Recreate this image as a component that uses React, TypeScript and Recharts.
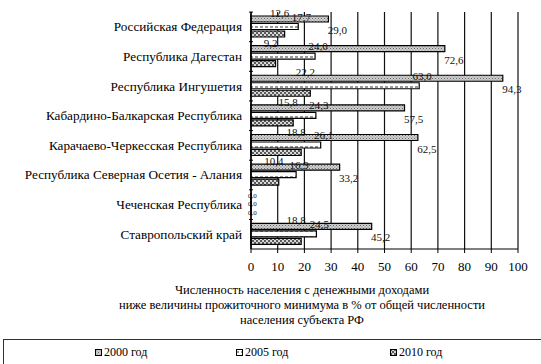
import { BarChart, Bar, XAxis, YAxis, CartesianGrid, LabelList } from "recharts"

const regions = [
  "Российская Федерация",
  "Республика Дагестан",
  "Республика Ингушетия",
  "Кабардино-Балкарская Республика",
  "Карачаево-Черкесская Республика",
  "Республика Северная Осетия - Алания",
  "Чеченская Республика",
  "Ставропольский край",
]

const y2000 = [29.0, 72.6, 94.3, 57.5, 62.5, 33.2, 0.0, 45.2]
const y2005 = [17.7, 24.0, 63.0, 24.3, 26.1, 16.9, 0.0, 24.5]
const y2010 = [12.6, 9.2, 22.2, 15.8, 18.8, 10.4, 0.0, 18.8]

const xTicks = [0, 10, 20, 30, 40, 50, 60, 70, 80, 90, 100]

const titleLines = [
  "Численность населения с денежными доходами",
  "ниже величины прожиточного минимума в % от общей численности",
  "населения субъекта РФ",
]

const SERIF = "Liberation Serif"

const data = regions.map((name, i) => ({
  name,
  y2000: y2000[i],
  y2005: y2005[i],
  y2010: y2010[i],
}))

const fmt = (v: number) => v.toFixed(1).replace(".", ",")

// zero-valued bars get a hairline so their labels still show (Чеченская Республика)
const zeroMin = (v: any) => (Number(v) === 0 ? 0.3 : 0)

// label offsets from the bar end / bar centre, per series
function makeLabel(dx: number, dy: number, zeroDy: number) {
  return (props: any) => {
    const { x, y, width, height, value } = props
    const zero = Number(value) === 0
    return (
      <text
        x={Number(x) + Number(width) + (zero ? 1 : dx)}
        y={Number(y) + Number(height) / 2 + (zero ? zeroDy : dy)}
        textAnchor="middle"
        dominantBaseline="central"
        fontSize={zero ? 7 : 11}
        style={{ fontFamily: SERIF }}
        fill="#111"
      >
        {fmt(Number(value))}
      </text>
    )
  }
}

function RegionTick(props: any) {
  const { x, y, payload } = props
  return (
    <g>
      <text
        x={x}
        y={y}
        textAnchor="end"
        dominantBaseline="central"
        fontSize={13.2}
        style={{ fontFamily: SERIF }}
        fill="#000"
      >
        {payload.value}
      </text>
      <line x1={x + 7} x2={x + 11} y1={y - 14.75} y2={y - 14.75} stroke="#000" />
    </g>
  )
}

function LegendItem({ id, label, left }: { id: string; label: string; left: number }) {
  return (
    <div style={{ position: "absolute", left, top: 345, display: "flex", alignItems: "center" }}>
      <svg width={7} height={7} style={{ marginRight: 2 }}>
        <rect x={0.5} y={0.5} width={6} height={6} fill={`url(#${id})`} stroke="#000" />
      </svg>
      <span style={{ fontSize: 12, fontFamily: SERIF, color: "#000" }}>{label}</span>
    </div>
  )
}

export default function App() {
  return (
    <div style={{ position: "absolute", left: 0, top: 0, width: 541, height: 364, background: "#fff", overflow: "hidden", fontFamily: SERIF }}>
      <svg width={0} height={0} style={{ position: "absolute" }}>
        <defs>
          <pattern id="p2000" width={3} height={3} patternUnits="userSpaceOnUse">
            <rect width={3} height={3} fill="#cfcfcf" />
            <rect width={1} height={1} fill="#666" />
            <rect x={1.5} y={1.5} width={1} height={1} fill="#888" />
          </pattern>
          <pattern id="p2005" width={5} height={6} patternUnits="userSpaceOnUse">
            <rect width={5} height={6} fill="#fff" />
            <rect x={0} y={2.5} width={3} height={1} fill="#333" />
          </pattern>
          <pattern id="p2010" width={4} height={4} patternUnits="userSpaceOnUse">
            <rect width={4} height={4} fill="#d8d8d8" />
            <rect width={2} height={2} fill="#5a5a5a" />
            <rect x={2} y={2} width={2} height={2} fill="#5a5a5a" />
          </pattern>
        </defs>
      </svg>

      <BarChart
        width={541}
        height={279}
        data={data}
        layout="vertical"
        margin={{ top: 12, right: 23, bottom: 0, left: 0 }}
        barSize={6}
        barGap={1.5}
        style={{ fontFamily: SERIF }}
      >
        <CartesianGrid horizontal={false} stroke="#111" strokeWidth={1.2} />
        <XAxis
          type="number"
          domain={[0, 100]}
          ticks={xTicks}
          interval={0}
          height={30}
          axisLine={{ stroke: "#000", strokeWidth: 1.2 }}
          tickLine={{ stroke: "#000" }}
          tickSize={4}
          tickMargin={9}
          tick={{ fontSize: 13, fontFamily: SERIF, fill: "#000" }}
        />
        <YAxis
          type="category"
          dataKey="name"
          width={251}
          interval={0}
          axisLine={{ stroke: "#000", strokeWidth: 1.5 }}
          tickLine={false}
          tickMargin={3}
          tick={<RegionTick />}
        />
        <Bar dataKey="y2000" fill="url(#p2000)" stroke="#000" strokeWidth={1.2} minPointSize={zeroMin} isAnimationActive={false}>
          <LabelList dataKey="y2000" content={makeLabel(9, 11, -1)} />
        </Bar>
        <Bar dataKey="y2005" fill="url(#p2005)" stroke="#000" strokeWidth={1.2} minPointSize={zeroMin} isAnimationActive={false}>
          <LabelList dataKey="y2005" content={makeLabel(3, -10, 0)} />
        </Bar>
        <Bar dataKey="y2010" fill="url(#p2010)" stroke="#000" strokeWidth={1.2} minPointSize={zeroMin} isAnimationActive={false}>
          <LabelList dataKey="y2010" content={makeLabel(-5, -21, 1)} />
        </Bar>
      </BarChart>

      {titleLines.map((line, i) => (
        <div
          key={line}
          style={{
            position: "absolute",
            left: 0,
            width: 604,
            top: 283 + i * 15,
            textAlign: "center",
            fontSize: 12.5,
            fontFamily: SERIF,
            color: "#000",
            lineHeight: "14px",
          }}
        >
          {line}
        </div>
      ))}

      <div
        style={{
          position: "absolute",
          left: 3,
          top: 339,
          width: 560,
          height: 40,
          borderTop: "1px solid #333",
          borderLeft: "1px solid #333",
        }}
      />
      <LegendItem id="p2000" label="2000 год" left={95} />
      <LegendItem id="p2005" label="2005 год" left={236} />
      <LegendItem id="p2010" label="2010 год" left={390} />
    </div>
  )
}
